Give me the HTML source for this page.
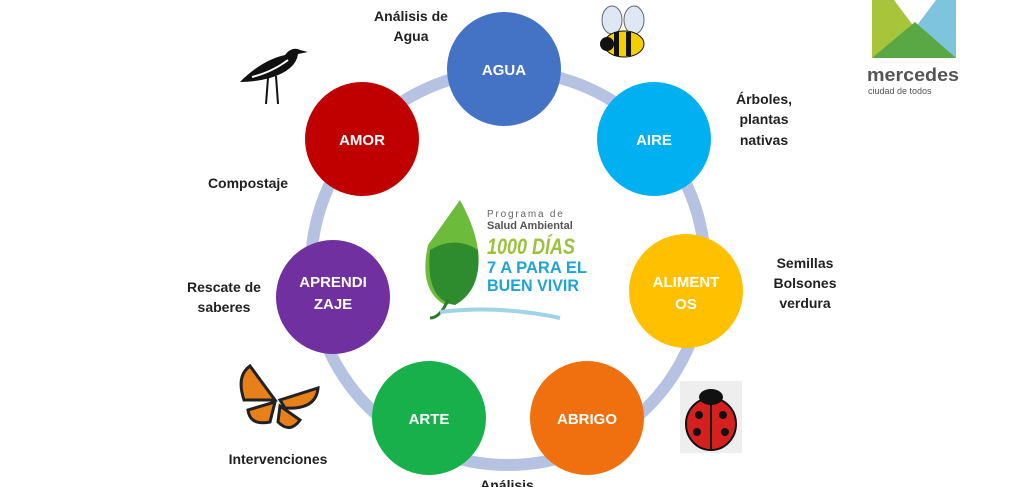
<!DOCTYPE html>
<html><head><meta charset="utf-8"><style>
html,body{margin:0;padding:0;background:#fff;width:1014px;height:487px;overflow:hidden}
svg{display:block}
text{font-family:"Liberation Sans",Arial,sans-serif}
</style></head><body>
<svg width="1014" height="487" viewBox="0 0 1014 487">
<circle cx="508" cy="268" r="197" fill="none" stroke="#b6c2e2" stroke-width="12"/>
<g font-weight="bold" font-size="15" fill="#fff" text-anchor="middle">
<circle cx="504" cy="69" r="57" fill="#4472c4"/><text x="504" y="75">AGUA</text>
<circle cx="654" cy="139" r="57" fill="#00b0f0"/><text x="654" y="145">AIRE</text>
<circle cx="686" cy="291" r="57" fill="#ffc000"/><text x="686" y="287">ALIMENT</text><text x="686" y="309">OS</text>
<circle cx="587" cy="418" r="57" fill="#f0700f"/><text x="587" y="424">ABRIGO</text>
<circle cx="429" cy="418" r="57" fill="#17b04a"/><text x="429" y="424">ARTE</text>
<circle cx="333" cy="297" r="57" fill="#7030a0"/><text x="333" y="287">APRENDI</text><text x="333" y="309">ZAJE</text>
<circle cx="362" cy="139" r="57" fill="#c00000"/><text x="362" y="145">AMOR</text>
</g>
<g font-weight="bold" font-size="14" fill="#222" text-anchor="middle">
<text x="411" y="21">Análisis de</text><text x="411" y="41">Agua</text>
<text x="764" y="104">Árboles,</text><text x="764" y="124">plantas</text><text x="764" y="145">nativas</text>
<text x="248" y="188">Compostaje</text>
<text x="224" y="292">Rescate de</text><text x="224" y="312">saberes</text>
<text x="805" y="268">Semillas</text><text x="805" y="288">Bolsones</text><text x="805" y="308">verdura</text>
<text x="278" y="464">Intervenciones</text>
<text x="507" y="490">Análisis</text>
</g>
<!-- center logo -->
<path d="M460 200 L428 245 Q418 290 445 305 Q470 300 478 270 Q482 240 460 200Z" fill="#6dbb3a"/>
<path d="M430 250 Q455 235 478 250 Q482 290 455 305 Q425 300 430 250Z" fill="#2e8b2e"/>
<path d="M448 300 Q440 318 430 318" stroke="#2e7a2e" stroke-width="3" fill="none"/>
<path d="M440 312 Q500 305 560 318" stroke="#9ed3e8" stroke-width="4" fill="none"/>
<g font-family="Liberation Sans" font-weight="bold">
<text x="487" y="217" font-size="10" fill="#666" font-weight="normal" letter-spacing="1.8">Programa de</text>
<text x="487" y="229" font-size="11" fill="#555">Salud Ambiental</text>
<text x="487" y="254" font-size="22" fill="#9ac23c" font-style="italic" textLength="88" lengthAdjust="spacingAndGlyphs">1000 DÍAS</text>
<text x="487" y="273" font-size="17" fill="#1fa3d8" textLength="100" lengthAdjust="spacingAndGlyphs">7 A PARA EL</text>
<text x="487" y="291" font-size="17" fill="#1fa3d8" textLength="92" lengthAdjust="spacingAndGlyphs">BUEN VIVIR</text>
</g>
<!-- mercedes logo -->
<polygon points="872,0 894,0 915,28 894,58 872,58" fill="#a8c43a"/>
<polygon points="936,0 956,0 956,58 915,28" fill="#7ec4dc"/>
<polygon points="872,58 915,22 956,58" fill="#5aa845"/>
<text x="867" y="81" font-size="18" font-weight="bold" fill="#555" textLength="92" lengthAdjust="spacingAndGlyphs">mercedes</text>
<text x="868" y="94" font-size="9" fill="#555">ciudad de todos</text>
<!-- bird -->
<path d="M240 82 Q262 60 285 55 Q292 46 300 50 L308 52 L298 54 Q296 70 270 78 Q255 82 240 82Z" fill="#111"/>
<path d="M252 77 Q272 72 288 60" stroke="#fff" stroke-width="2" fill="none"/>
<g stroke="#111" stroke-width="2"><line x1="268" y1="78" x2="266" y2="104"/><line x1="276" y1="76" x2="278" y2="104"/></g>
<!-- bee -->
<ellipse cx="612" cy="20" rx="10" ry="14" fill="#dde8f4" stroke="#666"/>
<ellipse cx="634" cy="20" rx="10" ry="14" fill="#dde8f4" stroke="#666"/>
<ellipse cx="624" cy="44" rx="20" ry="13" fill="#f5d000" stroke="#111"/>
<rect x="614" y="32" width="5" height="24" fill="#111"/><rect x="626" y="32" width="5" height="24" fill="#111"/>
<circle cx="607" cy="44" r="7" fill="#111"/>
<!-- butterfly -->
<path d="M275 400 L250 366 Q236 376 244 400 Z" fill="#e8801a" stroke="#222" stroke-width="3"/>
<path d="M275 402 L248 410 Q250 426 270 422Z" fill="#e8801a" stroke="#222" stroke-width="3"/>
<path d="M280 400 L318 388 Q316 410 285 408Z" fill="#e8801a" stroke="#222" stroke-width="3"/>
<path d="M280 406 L300 420 Q290 434 278 422Z" fill="#e8801a" stroke="#222" stroke-width="3"/>
<!-- ladybug -->
<rect x="680" y="381" width="62" height="72" fill="#eee"/>
<ellipse cx="711" cy="424" rx="25" ry="26" fill="#d62020" stroke="#111" stroke-width="2"/>
<line x1="711" y1="398" x2="711" y2="450" stroke="#111" stroke-width="2"/>
<ellipse cx="711" cy="397" rx="12" ry="8" fill="#111"/>
<circle cx="699" cy="415" r="4" fill="#111"/><circle cx="723" cy="415" r="4" fill="#111"/>
<circle cx="697" cy="432" r="4" fill="#111"/><circle cx="725" cy="432" r="4" fill="#111"/>
</svg>
</body></html>
